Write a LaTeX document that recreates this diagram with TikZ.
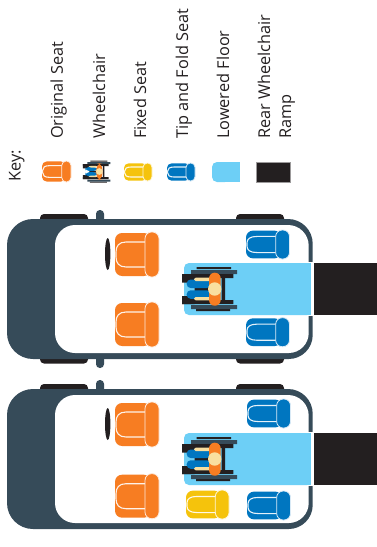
\documentclass[tikz,border=0pt]{standalone}
\usepackage{fontspec}
\setmainfont{Open Sans}
\definecolor{slate}{HTML}{364B59}
\definecolor{seatorange}{HTML}{F77D22}
\definecolor{seatblue}{HTML}{0076C0}
\definecolor{seatyellow}{HTML}{F5C30C}
\definecolor{floorblue}{HTML}{6DCFF6}
\definecolor{inkblack}{HTML}{231F20}
\definecolor{cream}{HTML}{F9DF9F}
\tikzset{
  keylabel/.style={rotate=90,anchor=base west,inner sep=0pt,font=\fontsize{16.3}{19}\selectfont,text=inkblack},
  seatline/.style={draw=white!90!#1,line width=1.1pt},
}
\newcommand{\seatshape}[5]{%
  \pgfmathsetmacro{\backr}{0.15*#3}%
  \pgfmathsetmacro{\bodyr}{0.16*#3}%
  \begin{scope}[shift={(#1,#2)},xscale={#3/44},yscale={#4/45}]
    \fill[#5,rounded corners=\bodyr pt] (36,1) -- (0,1) -- (0,44) -- (36,44) -- cycle;
    \draw[seatline=#5] (31,10) -- (11,10) .. controls (4,10) and (1,14) .. (1,20) -- (1,25) .. controls (1,31) and (4,35) .. (11,35) -- (31,35);
    \fill[#5,draw=white!85!#5,line width=0.8pt,rounded corners=\backr pt] (30,0) rectangle (44,45);
  \end{scope}}
\newcommand{\chairshape}[3]{%
  \begin{scope}[shift={(#1,#2)},scale=#3]
    \fill[inkblack] (-18,-22) rectangle (16.3,-20) (-18.7,20) rectangle (15.3,22);
    \fill[slate] (-23.7,-19) rectangle (22.3,-15) (-23.7,16) rectangle (22.3,20);
    \fill[inkblack] (-32.7,-15) rectangle (18.7,-11) (-32.7,11) rectangle (18.7,15);
    \fill[inkblack] (-32.7,-15) rectangle (-20,-6.5) (-32.7,7) rectangle (-20,15);
    \fill[inkblack] (7,-12) rectangle (10.3,12) (-20,-2) rectangle (5,2);
    \fill[seatblue,rounded corners=3.9pt] (-28,-9.5) rectangle (-4,-1) (-28,1.3) rectangle (-4,9.8);
    \fill[cream,rounded corners=1.6pt] (-20.7,-11.3) rectangle (-4,-8) (-20.7,8) rectangle (-4,11.3);
    \fill[seatorange,rounded corners=5.7pt] (-5.7,-16.3) rectangle (6,16.7);
    \fill[cream] (0,0) circle (6.7);
  \end{scope}}
\newcommand{\carbody}[2]{%
  \begin{scope}[shift={(0,#1)}]
    \fill[inkblack,rounded corners=4pt] (40,214) rectangle (88,225) (236,214) rectangle (284,225);
    \fill[slate,rounded corners=3.8pt] (96,210) rectangle (104,226);
    #2
    \fill[slate] (100,219) [rounded corners=24.7pt] -- (312.7,219) [rounded corners=24pt] -- (312.7,359) [rounded corners=26pt] -- (7,359) -- (7,219) [sharp corners] -- cycle;
    \fill[white] (100,225) [rounded corners=20.7pt] -- (308.7,225) [rounded corners=20pt] -- (308.7,353) -- (55,353) -- (55,225) [sharp corners] -- cycle;
    \fill[white] (305,262) rectangle (314,316);
    \fill[floorblue,rounded corners=5pt] (312,263) -- (184,263) -- (184,315) -- (312,315) -- cycle;
    \fill[floorblue] (300,263) rectangle (311,315);
    \fill[white] (311,262) rectangle (314,316);
    \fill[inkblack] (314,263) rectangle (377,315);
    \fill[inkblack] (107.7,254) ellipse[x radius=2.7,y radius=16];
  \end{scope}}
\begin{document}
\begin{tikzpicture}[x=1pt,y=-1pt]
\path[use as bounding box] (0,0) rectangle (377,547);
% key
\node[keylabel] (kKey) at (20.7,182) {Key:};
\node[keylabel] (kOrig) at (63,139) {Original Seat};
\node[keylabel] (kChair) at (105,139) {Wheelchair};
\node[keylabel] (kFixed) at (146,139) {Fixed Seat};
\node[keylabel] (kTip) at (188,139) {Tip and Fold Seat};
\node[keylabel] (kLow) at (229,139) {Lowered Floor};
\node[keylabel] (kRear) at (270,139) {Rear Wheelchair};
\node[keylabel] (kRamp) at (291,139) {Ramp};
\seatshape{42}{161}{29}{21}{seatorange}
\chairshape{99.3}{171.5}{0.5}
\seatshape{124}{163}{28}{18}{seatyellow}
\seatshape{167}{163}{28}{18}{seatblue}
\fill[floorblue,rounded corners=5pt] (230,162) -- (212,162) -- (212,182) -- (230,182) -- cycle;
\fill[floorblue] (225,162) rectangle (240,182);
\fill[inkblack,draw=inkblack!45,line width=0.5pt] (256,162.3) rectangle (290.5,182.5);
% upper car
\carbody{0}{\fill[inkblack,rounded corners=4pt] (40,353) rectangle (88,363.5) (236,353) rectangle (284,363.5);
  \fill[slate,rounded corners=3.8pt] (96,352) rectangle (104,368);}
\seatshape{115}{232}{44}{45}{seatorange}
\seatshape{115}{302}{44}{45}{seatorange}
\seatshape{246}{230}{43.5}{29}{seatblue}
\seatshape{246}{317.7}{43.5}{29}{seatblue}
\chairshape{214.7}{289}{1}
% lower car
\carbody{170}{}
\seatshape{115}{402}{44}{45}{seatorange}
\seatshape{115}{473.7}{44}{45}{seatorange}
\seatshape{247}{399}{43.5}{29}{seatblue}
\seatshape{247}{491}{43.5}{29}{seatblue}
\seatshape{186}{490}{43}{29}{seatyellow}
\chairshape{214.7}{459}{1}
\end{tikzpicture}
\end{document}
